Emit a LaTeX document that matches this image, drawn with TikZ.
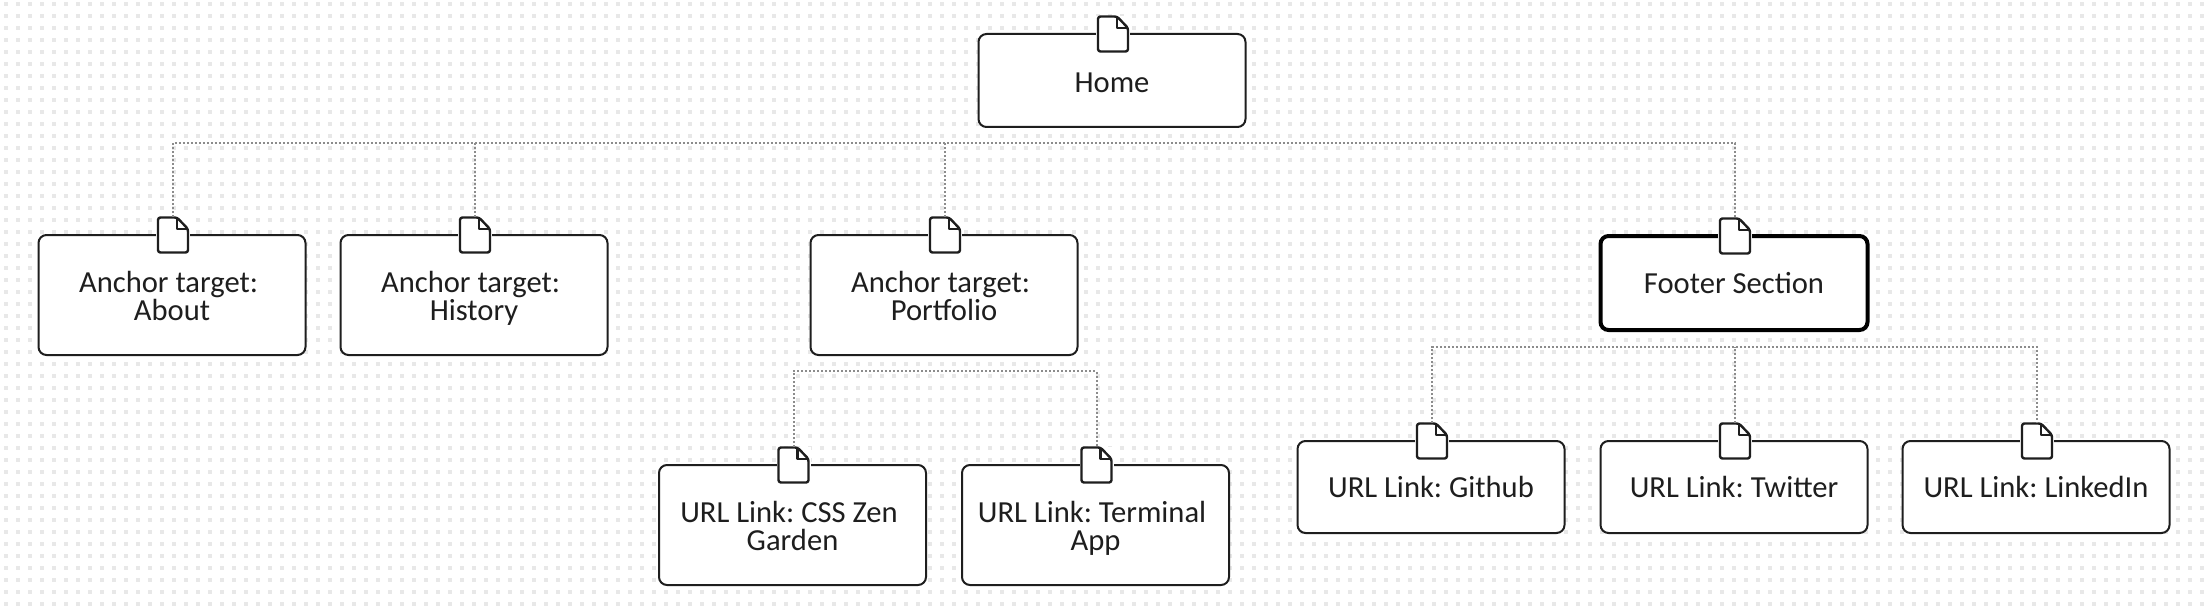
\documentclass[tikz,border=0pt]{standalone}
\usepackage{fontspec}
\setmainfont{Carlito}
\frenchspacing
\definecolor{inkc}{HTML}{1E1E1E}
\definecolor{linkc}{HTML}{8C8C8C}
\definecolor{dotc}{HTML}{E8E8E8}
\tikzset{
  x=0.5pt,y=-0.5pt,
  pagebox/.style={draw=inkc,fill=white,line width=1pt,rounded corners=4pt,rectangle,inner sep=0pt,text=inkc,font=\fontsize{15.3pt}{14pt}\selectfont},
  heavybox/.style={pagebox,draw=black,line width=2pt},
  dochold/.style={rectangle,inner sep=0pt,minimum width=15pt,minimum height=17.5pt},
  linkline/.style={draw=linkc,line width=1pt,dash pattern=on 1pt off 1pt},
  docicon/.pic={
    \fill[white] (-17,-18) rectangle (17,18);
    \draw[inkc,fill=white,line width=1.2pt,line join=round,rounded corners=1.2pt] (-15,-17.5) -- (4,-17.5) -- (15,-6) -- (15,17.5) -- (-15,17.5) -- cycle;
    \draw[inkc,line width=1.2pt,line join=round] (4,-17.5) -- (4,-6) -- (15,-6);
  }
}
% name, centre x, top, bottom, style, baseline offset (px above centre), line 1, line 2
\newcommand{\docnode}[8]{%
  \node[#5,minimum width=133.5pt,minimum height={(#4-#3)*0.5pt}] (#1) at (#2,{(#3+#4)/2})
    {\smash{\makebox[0pt]{\raisebox{#6pt}{#7}}\makebox[0pt]{\raisebox{\dimexpr#6pt-14pt\relax}{#8}}}};
  \node[dochold] (#1doc) at (#2+1,#3) {};
  \pic at (#1doc.center) {docicon};
}
\begin{document}
\begin{tikzpicture}
\useasboundingbox (0,0) rectangle (2204,610);
\fill[white] (0,0) rectangle (2204,610);
\foreach \r in {0,...,50}
  \draw[dotc,line width=1.6pt,dash pattern=on 1.6pt off 4.4pt] (4.4,{4+12*\r}) -- (2204,{4+12*\r});
\docnode{home}{1112}{34}{127}{pagebox}{-5.8}{Home}{}
\docnode{about}{172}{235}{355}{pagebox}{1.5}{Anchor target:\ }{About}
\docnode{history}{474}{235}{355}{pagebox}{1.5}{Anchor target:\ }{History}
\docnode{portfolio}{944}{235}{355}{pagebox}{1.5}{Anchor target:\ }{Portfolio}
\docnode{footer}{1734}{236}{330}{heavybox}{-5}{Footer Section}{}
\docnode{css}{792.5}{465}{585}{pagebox}{1.5}{URL Link: CSS Zen\ }{Garden}
\docnode{terminal}{1095.5}{465}{585}{pagebox}{1.5}{URL Link: Terminal\ }{App}
\docnode{github}{1431}{441}{533}{pagebox}{-5}{URL Link: Github}{}
\docnode{twitter}{1734}{441}{533}{pagebox}{-5}{URL Link: Twitter}{}
\docnode{linkedin}{2036}{441}{533}{pagebox}{-5}{URL Link: LinkedIn}{}
\coordinate (busa) at (1112,143);
\coordinate (busb) at (944,371);
\coordinate (busc) at (1734,347);
\draw[linkline] (aboutdoc.north) |- (busa) -| (footerdoc.north);
\draw[linkline] (historydoc.north) -- (historydoc.north |- busa);
\draw[linkline] (portfoliodoc.north) -- (portfoliodoc.north |- busa);
\draw[linkline] (cssdoc.north) |- (busb) -| (terminaldoc.north);
\draw[linkline] (githubdoc.north) |- (busc) -| (linkedindoc.north);
\draw[linkline] (twitterdoc.north) -- (twitterdoc.north |- busc);
\end{tikzpicture}
\end{document}
